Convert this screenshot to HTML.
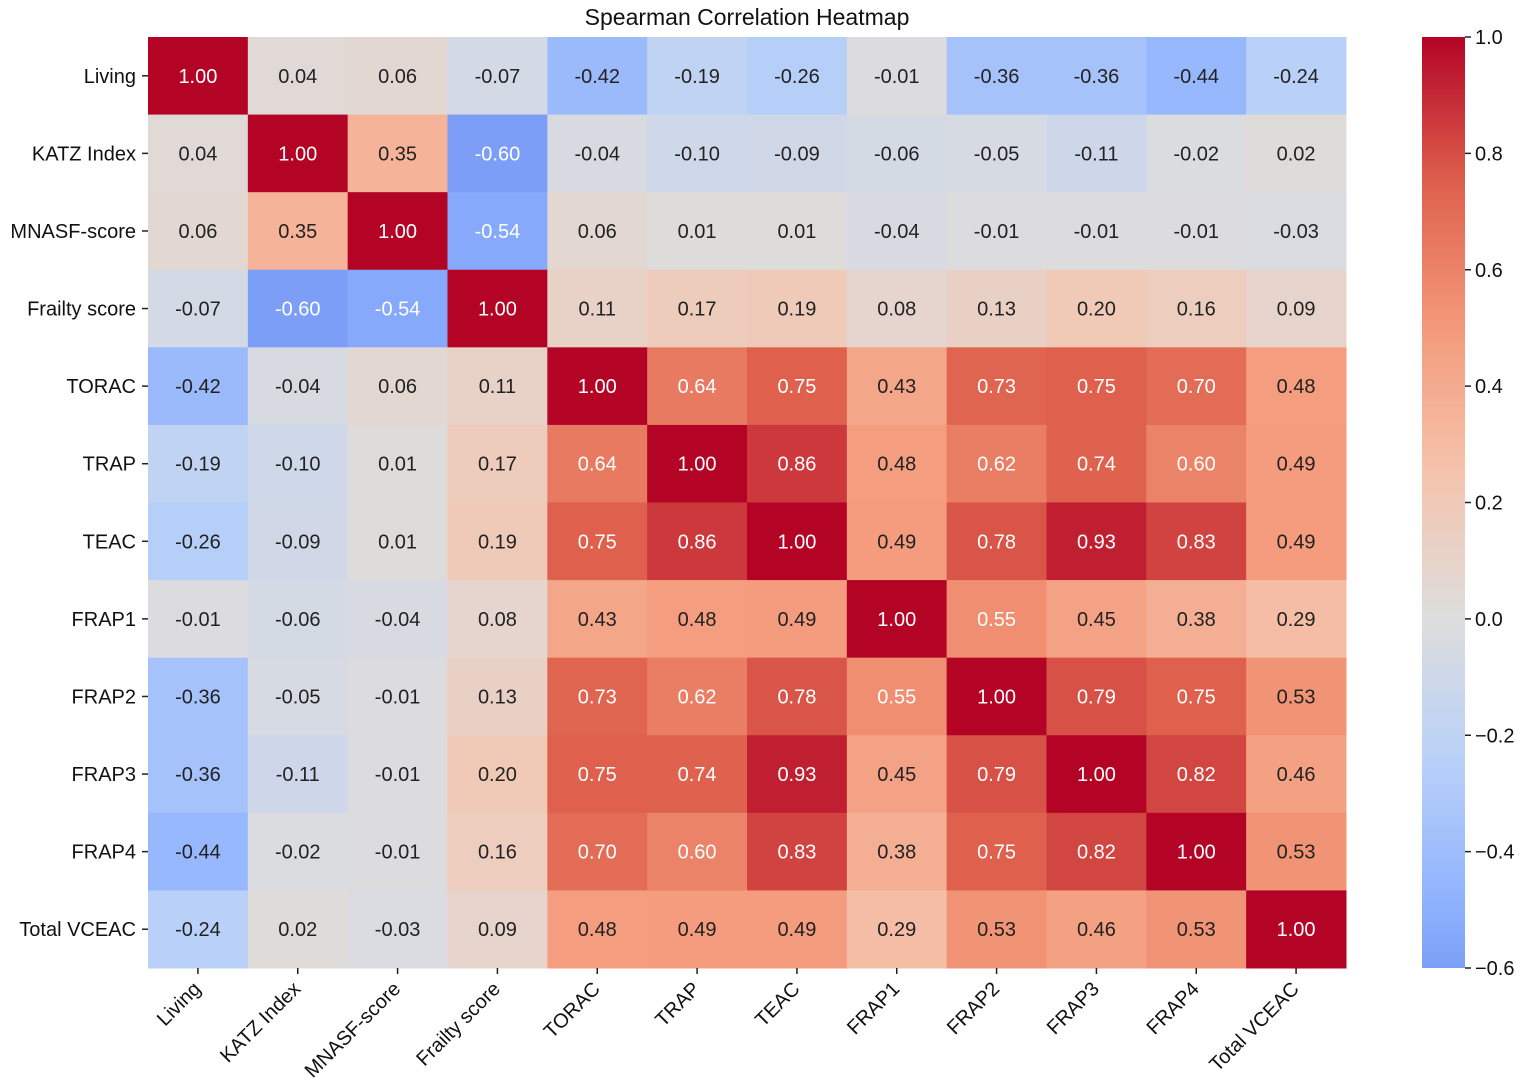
<!DOCTYPE html>
<html><head><meta charset="utf-8"><style>
html,body{margin:0;padding:0;background:#fff;}
svg{display:block;font-family:"Liberation Sans","DejaVu Sans",sans-serif;}
</style></head><body>
<svg id="chart" width="1535" height="1092">
<text x="747" y="25" text-anchor="middle" font-size="23" fill="#111">Spearman Correlation Heatmap</text>
<g id="cells"></g><g id="yaxis"></g><g id="xaxis"></g><g id="cbar"></g>
</svg>
<script>
const labels = ["Living","KATZ Index","MNASF-score","Frailty score","TORAC","TRAP","TEAC","FRAP1","FRAP2","FRAP3","FRAP4","Total VCEAC"];
const row0 = [1.00,0.04,0.06,-0.07,-0.42,-0.19,-0.26,-0.01,-0.36,-0.36,-0.44,-0.24];
const row1 = [0.04,1.00,0.35,-0.60,-0.04,-0.10,-0.09,-0.06,-0.05,-0.11,-0.02,0.02];
const row2 = [0.06,0.35,1.00,-0.54,0.06,0.01,0.01,-0.04,-0.01,-0.01,-0.01,-0.03];
const row3 = [-0.07,-0.60,-0.54,1.00,0.11,0.17,0.19,0.08,0.13,0.20,0.16,0.09];
const row4 = [-0.42,-0.04,0.06,0.11,1.00,0.64,0.75,0.43,0.73,0.75,0.70,0.48];
const row5 = [-0.19,-0.10,0.01,0.17,0.64,1.00,0.86,0.48,0.62,0.74,0.60,0.49];
const row6 = [-0.26,-0.09,0.01,0.19,0.75,0.86,1.00,0.49,0.78,0.93,0.83,0.49];
const row7 = [-0.01,-0.06,-0.04,0.08,0.43,0.48,0.49,1.00,0.55,0.45,0.38,0.29];
const row8 = [-0.36,-0.05,-0.01,0.13,0.73,0.62,0.78,0.55,1.00,0.79,0.75,0.53];
const row9 = [-0.36,-0.11,-0.01,0.20,0.75,0.74,0.93,0.45,0.79,1.00,0.82,0.46];
const row10 = [-0.44,-0.02,-0.01,0.16,0.70,0.60,0.83,0.38,0.75,0.82,1.00,0.53];
const row11 = [-0.24,0.02,-0.03,0.09,0.48,0.49,0.49,0.29,0.53,0.46,0.53,1.00];
const matrix = [row0,row1,row2,row3,row4,row5,row6,row7,row8,row9,row10,row11];
const cbarTicks = [1.0,0.8,0.6,0.4,0.2,0.0,-0.2,-0.4,-0.6];
const vmin = -0.6, vmax = 1.0;

const NS="http://www.w3.org/2000/svg";
const L=148,R=1346,T=37,B=968;
const n=labels.length, cw=(R-L)/n, ch=(B-T)/n;
const xPos=i=>L+i*cw, yPos=i=>T+i*ch;
const stops=[[59,76,192],[98,130,234],[141,176,254],[184,208,249],[221,221,221],[245,196,173],[244,154,123],[222,96,77],[180,4,38]];
function cmap(v){let t=Math.max(0,Math.min(1,(v+1)/2))*8;let i=Math.min(7,Math.floor(t)),f=t-i;
 return stops[i].map((c,k)=>Math.round(c+(stops[i+1][k]-c)*f));}
function lum(c){const l=c.map(x=>{x/=255;return x<=0.03928?x/12.92:Math.pow((x+0.055)/1.055,2.4)});return 0.2126*l[0]+0.7152*l[1]+0.0722*l[2];}
function el(tag,attrs,parent){const e=document.createElementNS(NS,tag);for(const k in attrs)e.setAttribute(k,attrs[k]);parent.appendChild(e);return e;}
const cells=document.getElementById('cells');
matrix.forEach((row,r)=>row.forEach((v,c)=>{
 const col=cmap(v);
 const rect=el('rect',{x:xPos(c),y:yPos(r),width:cw+0.5,height:ch+0.5,fill:`rgb(${col})`},cells);
 
 
 const t=el('text',{x:xPos(c)+cw/2,y:yPos(r)+ch/2+7,'text-anchor':'middle','font-size':20,fill:lum(col)>0.408?'#222':'#fff'},cells);
 t.textContent=v.toFixed(2);
 
 
}));
const ya=document.getElementById('yaxis'), xa=document.getElementById('xaxis');
labels.forEach((lab,i)=>{
 const y=yPos(i)+ch/2;
 el('line',{x1:L-6,x2:L,y1:y,y2:y,stroke:'#222','stroke-width':1.5},ya);
 const t=el('text',{x:L-12,y:y+7,'text-anchor':'end','font-size':20,fill:'#111'},ya);
 t.textContent=lab;
 
 
 const x=xPos(i)+cw/2;
 el('line',{x1:x,x2:x,y1:B,y2:B+6,stroke:'#222','stroke-width':1.5},xa);
 const tx=el('text',{x:x+4,y:B+22,'text-anchor':'end','font-size':20,fill:'#111',transform:`rotate(-45 ${x+4} ${B+22})`},xa);
 tx.textContent=lab;
 
 
});
const cb=document.getElementById('cbar');
const cx=1422,cwid=43;
const cy=v=>T+(vmax-v)/(vmax-vmin)*(B-T);
const defs=el('defs',{},cb);
const g=el('linearGradient',{id:'cg',x1:0,y1:1,x2:0,y2:0},defs);
for(let i=0;i<=40;i++){const v=vmin+(vmax-vmin)*i/40;el('stop',{offset:i/40,'stop-color':`rgb(${cmap(v)})`},g);}
const cr=el('rect',{x:cx,y:T,width:cwid,height:B-T,fill:'url(#cg)'},cb);


cbarTicks.forEach(v=>{
 const y=cy(v);
 el('line',{x1:cx+cwid,x2:cx+cwid+6,y1:y,y2:y,stroke:'#222','stroke-width':1.5},cb);
 const t=el('text',{x:cx+cwid+10,y:y+7,'font-size':20,fill:'#111'},cb);
 t.textContent=(v<0?'\u2212'+Math.abs(v).toFixed(1):v.toFixed(1));
 
 
});
</script>
</body></html>
